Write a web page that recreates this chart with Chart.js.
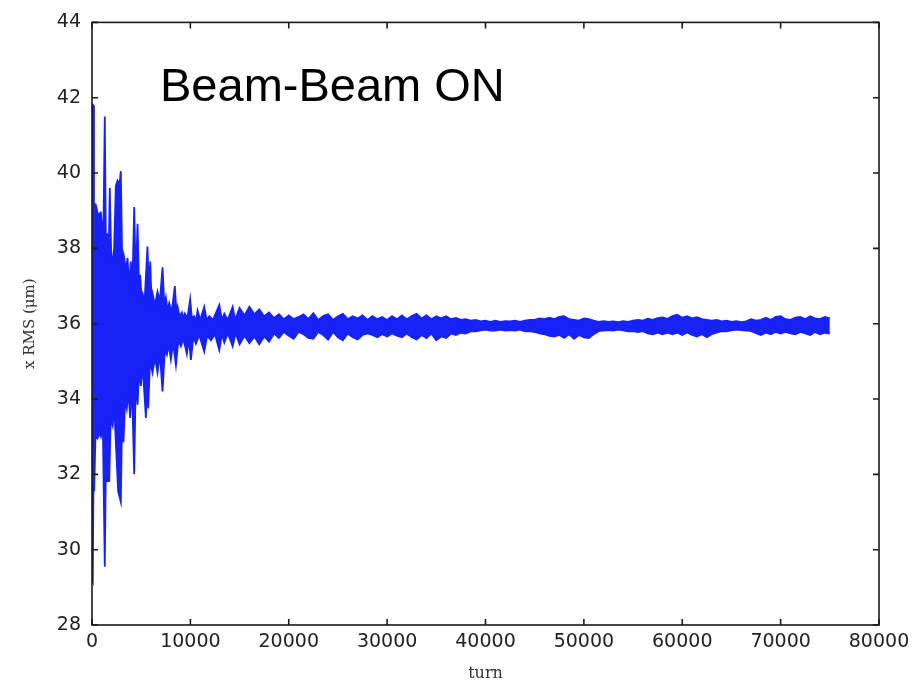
<!DOCTYPE html>
<html>
<head>
<meta charset="utf-8">
<script src="https://cdn.jsdelivr.net/npm/chart.js@4.4.1/dist/chart.umd.min.js"></script>
<style>
html,body{margin:0;padding:0;background:#fff;}
#wrap{width:918px;height:685px;position:relative;}
</style>
</head>
<body>
<div id="wrap"><canvas id="c" width="918" height="685"></canvas></div>
<script>
// ---- data ----
const upperTurnsEarly = [0,120,200,390,600,900,1150,1300,1420,1580,1700,1810,1950,2100,2250,2420,2600,2800,2930,3050,3250,3450,3610,3780,3950,4100,4290,4450,4630,4780,4900,5030,5140,5350,5640,5780,5920,6050,6150,6400,6660,6900,7170,7350,7510,7680,7850,8100,8420,8580,8700,8900,9140,9300,9440,9700,9980,10150,10390,10560,10730,11000,11410,11650,11920,12300,12940,13200,13450,13800,14300,14550];
const upperValuesEarly = [41.85,41.8,39.2,39.15,38.9,38.95,38.2,41.5,37.8,38.4,37.9,39.6,37.8,37.7,38.0,39.65,39.8,39.7,40.05,38.0,37.8,37.4,37.75,37.0,37.65,36.9,39.1,37.2,38.65,37.0,37.3,36.7,36.8,36.6,38.05,36.9,37.65,36.6,36.8,36.5,36.85,36.6,37.5,36.5,36.7,36.35,36.55,36.3,37.0,36.3,36.45,36.2,36.3,36.15,36.27,36.15,36.65,36.15,36.2,36.05,36.35,36.1,36.45,36.1,36.2,36.1,36.5,36.1,36.27,36.1,36.45,36.1];

const lowerTurnsEarly = [0,80,180,220,350,560,720,900,1100,1300,1450,1580,1680,1750,1900,2100,2250,2420,2660,2930,3050,3200,3380,3540,3700,3880,4050,4290,4450,4630,4800,4970,5150,5480,5600,5710,5900,6150,6400,6660,6900,7170,7400,7610,7800,8020,8250,8530,8780,9040,9300,9640,9850,10050,10300,10560,10900,11410,11700,12090,12500,12940,13200,13450,13800,14300,14600];
const lowerValuesEarly = [29.2,29.15,33.0,31.55,33.0,32.95,33.1,33.0,33.3,29.55,33.2,31.8,33.0,31.8,33.5,33.3,33.9,32.85,31.55,31.27,33.4,32.85,34.0,33.75,34.2,33.5,34.5,32.0,34.6,33.85,34.8,34.35,34.9,33.5,34.7,33.75,35.0,34.7,35.1,34.7,35.2,34.2,35.3,35.17,35.45,35.05,35.5,34.9,35.55,35.4,35.6,35.2,35.6,35.04,35.65,35.47,35.7,35.26,35.68,35.56,35.72,35.3,35.72,35.5,35.75,35.4,35.75];

const lateTurns = [15000,15500,16000,16500,17000,17500,18000,18500,19000,19500,20000,20500,21000,21500,22000,22500,23000,23500,24000,24500,25000,25500,26000,26500,27000,27500,28000,28500,29000,29500,30000,30500,31000,31500,32000,32500,33000,33500,34000,34500,35000,35500,36000,36500,37000,37500,38000,38500,39000,39500,40000,40500,41000,41500,42000,42500,43000,43500,44000,44500,45000,45500,46000,46500,47000,47500,48000,48500,49000,49500,50000,50500,51000,51500,52000,52500,53000,53500,54000,54500,55000,55500,56000,56500,57000,57500,58000,58500,59000,59500,60000,60500,61000,61500,62000,62500,63000,63500,64000,64500,65000,65500,66000,66500,67000,67500,68000,68500,69000,69500,70000,70500,71000,71500,72000,72500,73000,73500,74000,74500,75000];
const lateUpper = [
  36.42,36.22,36.45,36.25,36.38,36.2,36.3,36.15,36.25,36.12,
  36.22,36.12,36.18,36.25,36.12,36.28,36.1,36.2,36.25,36.1,
  36.2,36.26,36.12,36.2,36.14,36.22,36.1,36.2,36.12,36.18,
  36.1,36.2,36.12,36.22,36.12,36.2,36.26,36.14,36.22,36.12,
  36.2,36.14,36.2,36.12,36.15,36.1,36.12,36.08,36.1,36.06,
  36.08,36.05,36.08,36.05,36.07,36.06,36.08,36.05,36.08,36.1,
  36.1,36.14,36.12,36.16,36.12,36.18,36.2,36.12,36.1,36.08,
  36.14,36.12,36.08,36.05,36.07,36.05,36.06,36.04,36.07,36.05,
  36.08,36.1,36.08,36.13,36.1,36.15,36.17,36.13,36.2,36.24,
  36.16,36.2,36.14,36.17,36.12,36.1,36.08,36.1,36.06,36.08,
  36.05,36.07,36.04,36.06,36.12,36.08,36.1,36.16,36.1,36.18,
  36.2,36.12,36.1,36.16,36.18,36.12,36.2,36.14,36.12,36.18,36.14];
const lateLower = [
  35.45,35.68,35.48,35.66,35.45,35.66,35.52,35.74,35.62,35.78,
  35.68,35.6,35.78,35.72,35.62,35.6,35.78,35.7,35.58,35.78,
  35.64,35.56,35.74,35.64,35.58,35.7,35.74,35.7,35.64,35.72,
  35.66,35.74,35.68,35.64,35.74,35.64,35.58,35.7,35.62,35.74,
  35.56,35.66,35.62,35.74,35.7,35.76,35.74,35.8,35.8,35.82,
  35.84,35.82,35.82,35.84,35.82,35.83,35.82,35.84,35.8,35.8,
  35.78,35.74,35.72,35.68,35.66,35.7,35.62,35.72,35.6,35.7,
  35.64,35.62,35.72,35.8,35.82,35.83,35.82,35.84,35.82,35.8,
  35.8,35.78,35.8,35.74,35.72,35.76,35.72,35.76,35.72,35.76,
  35.7,35.77,35.7,35.66,35.72,35.64,35.72,35.76,35.8,35.8,
  35.82,35.84,35.83,35.82,35.8,35.75,35.7,35.76,35.72,35.78,
  35.74,35.78,35.74,35.72,35.78,35.74,35.7,35.78,35.72,35.76,35.74];

const upperTurns = upperTurnsEarly.concat(lateTurns);
const upperValues = upperValuesEarly.concat(lateUpper);
const lowerTurns = lowerTurnsEarly.concat(lateTurns);
const lowerValues = lowerValuesEarly.concat(lateLower);

const annotationText = 'Beam-Beam ON';
const xTitle = 'turn';
const yTitle = 'x RMS (\u03BCm)';

// ---- chart ----
const BLUE = 'rgb(22,34,246)';
const toPts = (xs, ys) => xs.map((x, i) => ({x: x, y: ys[i]}));

const framePlugin = {
  id: 'frame',
  afterDatasetsDraw(chart) {
    const {ctx, chartArea: a, scales: {x, y}} = chart;
    ctx.save();
    ctx.strokeStyle = '#1a1a1a';
    ctx.lineWidth = 1.6;
    ctx.strokeRect(a.left, a.top, a.right - a.left, a.bottom - a.top);
    const L = 6;
    ctx.beginPath();
    x.ticks.forEach(t => {
      const p = x.getPixelForValue(t.value);
      ctx.moveTo(p, a.bottom); ctx.lineTo(p, a.bottom - L);
      ctx.moveTo(p, a.top); ctx.lineTo(p, a.top + L);
    });
    y.ticks.forEach(t => {
      const p = y.getPixelForValue(t.value);
      ctx.moveTo(a.left, p); ctx.lineTo(a.left + L, p);
      ctx.moveTo(a.right, p); ctx.lineTo(a.right - L, p);
    });
    ctx.stroke();
    ctx.fillStyle = '#000';
    ctx.font = '47px "Liberation Sans", Arial, sans-serif';
    ctx.textBaseline = 'alphabetic';
    ctx.textAlign = 'left';
    ctx.fillText(annotationText, 160, 101);
    ctx.restore();
  }
};

new Chart(document.getElementById('c'), {
  type: 'line',
  data: {
    datasets: [
      {
        data: toPts(upperTurns, upperValues),
        borderColor: BLUE,
        backgroundColor: BLUE,
        borderWidth: 1.8,
        pointRadius: 0,
        tension: 0,
        fill: '+1'
      },
      {
        data: toPts(lowerTurns, lowerValues),
        borderColor: BLUE,
        backgroundColor: BLUE,
        borderWidth: 1.8,
        pointRadius: 0,
        tension: 0,
        fill: false
      }
    ]
  },
  options: {
    responsive: false,
    animation: false,
    events: [],
    layout: {padding: {top: 16, right: 39, left: 0, bottom: 0}},
    plugins: {legend: {display: false}, tooltip: {enabled: false}},
    scales: {
      x: {
        type: 'linear',
        min: 0, max: 80000,
        grid: {display: false, drawTicks: false},
        border: {display: false},
        afterFit(s) { s.height = 60; },
        ticks: {
          stepSize: 10000,
          padding: 6,
          color: '#222',
          font: {family: '"DejaVu Sans", sans-serif', size: 19},
          maxRotation: 0,
          autoSkip: false,
          callback: v => String(v)
        },
        title: {
          display: true, text: xTitle, color: '#333',
          font: {family: '"DejaVu Serif", "Liberation Serif", serif', size: 16},
          padding: {top: 0, bottom: 2}
        }
      },
      y: {
        type: 'linear',
        min: 28, max: 44,
        grid: {display: false, drawTicks: false},
        border: {display: false},
        afterFit(s) { s.width = 92; },
        ticks: {
          stepSize: 2,
          padding: 11,
          color: '#222',
          font: {family: '"DejaVu Sans", sans-serif', size: 19},
          callback: v => String(v)
        },
        title: {
          display: true, text: yTitle, color: '#333',
          font: {family: '"DejaVu Serif", "Liberation Serif", serif', size: 15},
          padding: {top: 21, bottom: 0}
        }
      }
    }
  },
  plugins: [framePlugin]
});
</script>
</body>
</html>
